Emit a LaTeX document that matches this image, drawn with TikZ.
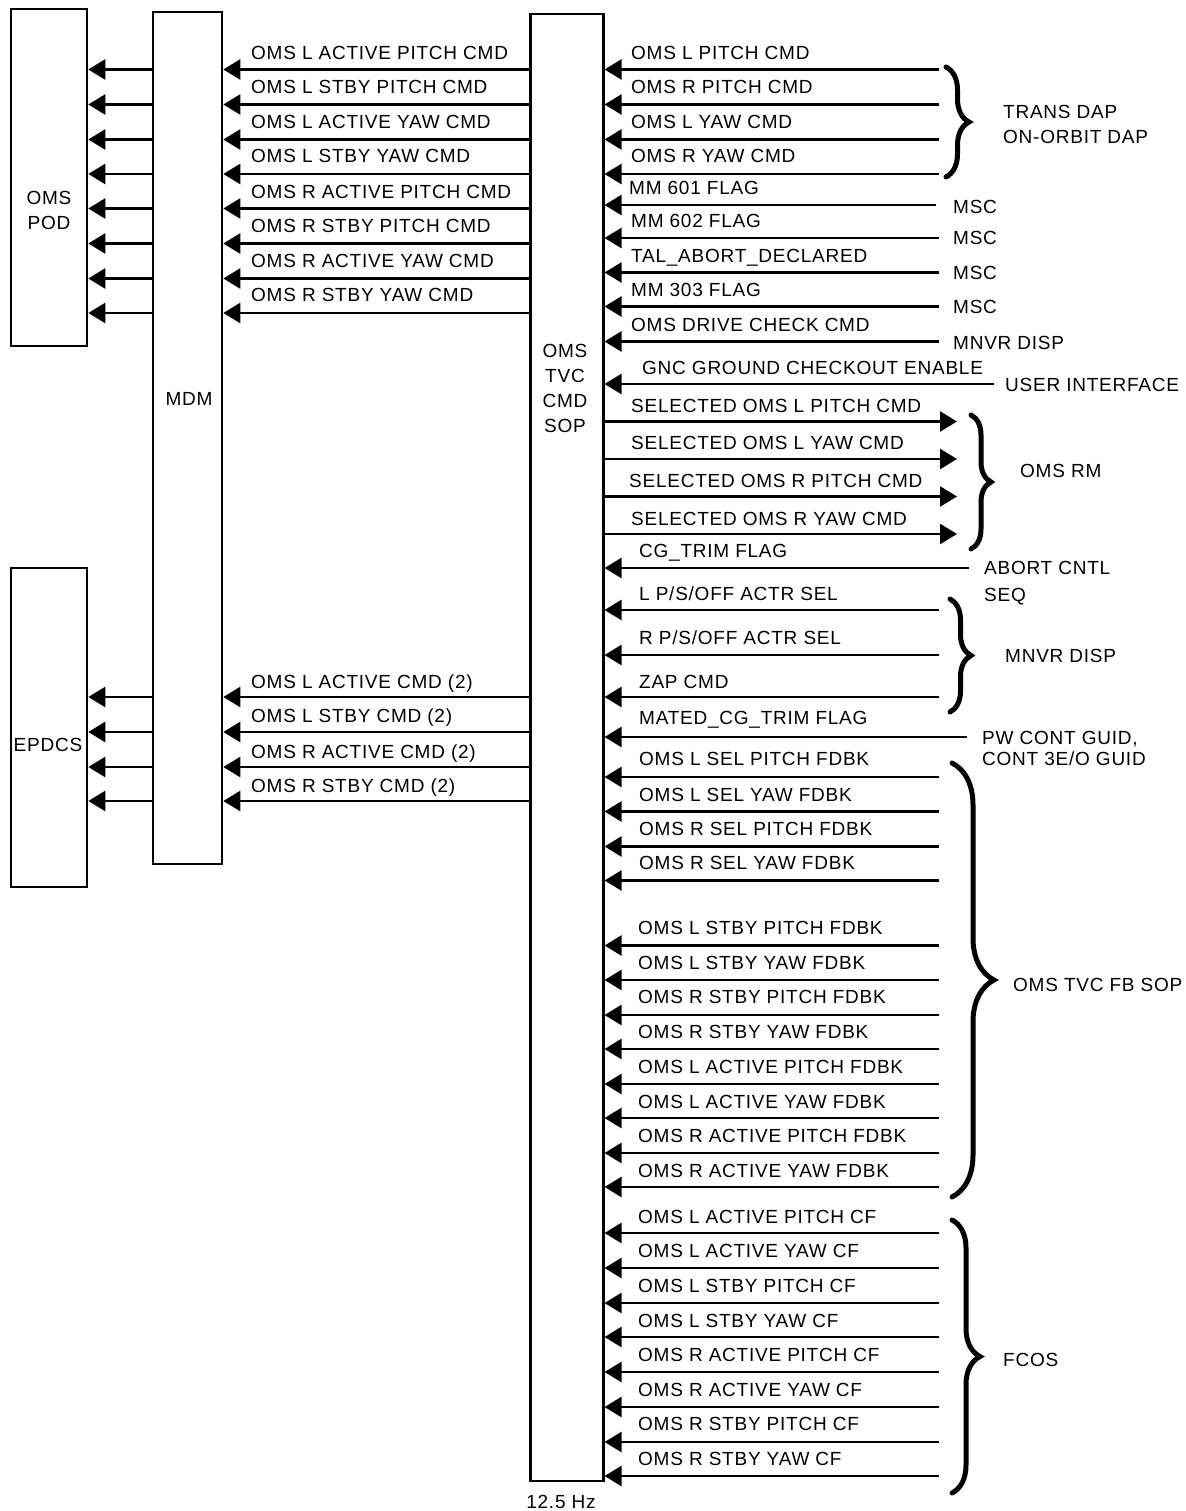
\documentclass[tikz,border=0pt]{standalone}
\usepackage{fontspec}
\setmainfont{Liberation Sans}[LetterSpace=4]
\usetikzlibrary{arrows.meta,decorations.pathreplacing}
\tikzset{
  arr/.style={line width=2.6pt,-{Triangle[length=17pt,width=20pt]}},
  box/.style={draw,line width=2.6pt,inner sep=0pt},
  lbl/.style={anchor=base west,inner sep=0pt},
  ctr/.style={anchor=center,inner sep=0pt,align=center},
  curly/.style={decorate,decoration={brace,amplitude=#1},line width=5pt,line cap=round},
}
% left-side command rows: name, line y, label y, text
\newcommand\podrow[4]{%
  \draw[arr] (sop.west |- 0,#2) -- (mdm.east |- 0,#2);
  \draw[arr] (mdm.west |- 0,#2) -- (pod.east |- 0,#2);
  \node[lbl] (#1) at (251,#3+6.8) {#4};
}
\newcommand\eprow[4]{%
  \draw[arr] (sop.west |- 0,#2) -- (mdm.east |- 0,#2);
  \draw[arr] (mdm.west |- 0,#2) -- (epdcs.east |- 0,#2);
  \node[lbl] (#1) at (251,#3+6.8) {#4};
}
% right-side input rows: name, line y, label y, label x, source x, text
\newcommand\inrow[6]{%
  \coordinate (#1) at (#5,#2);
  \draw[arr] (#1) -- (sop.east |- #1);
  \node[lbl] (#1t) at (#4,#3+6.8) {#6};
}
% right-side output rows: name, line y, label y, label x, text
\newcommand\outrow[5]{%
  \coordinate (#1) at (957,#2);
  \draw[arr] (sop.east |- #1) -- (#1);
  \node[lbl] (#1t) at (#4,#3+6.8) {#5};
}
\begin{document}
\begin{tikzpicture}[x=1pt,y=-1pt,font=\fontsize{19}{25}\selectfont]
\useasboundingbox (0,0) rectangle (1185,1511);

% boxes
\node[box,minimum width=76pt,minimum height=337pt] (pod) at (49,177.5) {};
\node[box,minimum width=76pt,minimum height=319pt] (epdcs) at (49,727.5) {};
\node[box,minimum width=69pt,minimum height=852pt] (mdm) at (187.5,438) {};
\node[box,minimum width=72.5pt,minimum height=1467pt] (sop) at (567,747.5) {};

\node[ctr] (podtxt) at (49,210) {OMS\\POD};
\node[ctr] (epdcstxt) at (48,745) {EPDCS};
\node[ctr] (mdmtxt) at (189,399) {MDM};
\node[ctr] (soptxt) at (565,388) {OMS\\TVC\\CMD\\SOP};
\node[ctr] (rate) at (561,1502) {12.5 Hz};

% left side
\podrow{la}{69.5}{53}{OMS L ACTIVE PITCH CMD}
\podrow{lb}{104.5}{87}{OMS L STBY PITCH CMD}
\podrow{lc}{139.5}{122}{OMS L ACTIVE YAW CMD}
\podrow{ld}{174}{156}{OMS L STBY YAW CMD}
\podrow{le}{208.5}{192}{OMS R ACTIVE PITCH CMD}
\podrow{lf}{243.5}{226}{OMS R STBY PITCH CMD}
\podrow{lg}{278.5}{261}{OMS R ACTIVE YAW CMD}
\podrow{lh}{313}{295}{OMS R STBY YAW CMD}

\eprow{ea}{697}{682}{OMS L ACTIVE CMD (2)}
\eprow{eb}{732}{716}{OMS L STBY CMD (2)}
\eprow{ec}{767}{752}{OMS R ACTIVE CMD (2)}
\eprow{ed}{801}{786}{OMS R STBY CMD (2)}

% right side: DAP inputs
\inrow{ra}{69.5}{53}{631}{939}{OMS L PITCH CMD}
\inrow{rb}{104.5}{87}{631}{939}{OMS R PITCH CMD}
\inrow{rc}{139.5}{122}{631}{939}{OMS L YAW CMD}
\inrow{rd}{174}{156}{631}{939}{OMS R YAW CMD}
\draw[curly=23pt] (946,67) -- (946,177);
\node[lbl] (trans) at (1003,118.8) {TRANS DAP};
\node[lbl] (onorb) at (1003,143.8) {ON-ORBIT DAP};

% MSC etc.
\inrow{re}{205}{188}{629}{936}{MM 601 FLAG}
\inrow{rf}{238}{221}{631}{939}{MM 602 FLAG}
\inrow{rg}{272.5}{256}{631}{939}{TAL\_ABORT\_DECLARED}
\inrow{rh}{306.5}{290}{631}{939}{MM 303 FLAG}
\inrow{ri}{341.5}{325}{631}{939}{OMS DRIVE CHECK CMD}
\inrow{rj}{384}{368}{642}{994}{GNC GROUND CHECKOUT ENABLE}
\node[lbl] (msc1) at (953,213.8) {MSC};
\node[lbl] (msc2) at (953,244.8) {MSC};
\node[lbl] (msc3) at (953,279.8) {MSC};
\node[lbl] (msc4) at (953,313.8) {MSC};
\node[lbl] (mnvr1) at (953,349.8) {MNVR DISP};
\node[lbl] (user) at (1005,391.8) {USER INTERFACE};

% outputs to OMS RM
\outrow{oa}{421.5}{406}{631}{SELECTED OMS L PITCH CMD}
\outrow{ob}{459}{443}{631}{SELECTED OMS L YAW CMD}
\outrow{oc}{496.5}{481}{629}{SELECTED OMS R PITCH CMD}
\outrow{od}{534}{519}{631}{SELECTED OMS R YAW CMD}
\draw[curly=20pt] (971,415) -- (971,549);
\node[lbl] (omsrm) at (1020,477.8) {OMS RM};

% abort / maneuver
\inrow{rk}{568}{551}{639}{969}{CG\_TRIM FLAG}
\node[lbl] (abort) at (984,574.8) {ABORT CNTL};
\node[lbl] (seq) at (984,601.8) {SEQ};
\inrow{rl}{610}{594}{639}{939}{L P/S/OFF ACTR SEL}
\inrow{rm}{655}{638}{639}{939}{R P/S/OFF ACTR SEL}
\inrow{rn}{697}{682}{639}{939}{ZAP CMD}
\draw[curly=21pt] (950,599) -- (950,712);
\node[lbl] (mnvr2) at (1005,662.8) {MNVR DISP};
\inrow{ro}{737}{718}{639}{967}{MATED\_CG\_TRIM FLAG}
\node[lbl] (pw1) at (982,744.8) {PW CONT GUID,};
\node[lbl] (pw2) at (982,765.8) {CONT 3E/O GUID};

% feedback
\inrow{fa}{777}{759}{639}{939}{OMS L SEL PITCH FDBK}
\inrow{fb}{811.5}{795}{639}{939}{OMS L SEL YAW FDBK}
\inrow{fc}{846.5}{829}{639}{939}{OMS R SEL PITCH FDBK}
\inrow{fd}{880.5}{863}{639}{939}{OMS R SEL YAW FDBK}
\inrow{fe}{945.5}{928}{638}{939}{OMS L STBY PITCH FDBK}
\inrow{ff}{980}{963}{638}{939}{OMS L STBY YAW FDBK}
\inrow{fg}{1015}{997}{638}{939}{OMS R STBY PITCH FDBK}
\inrow{fh}{1049}{1032}{638}{939}{OMS R STBY YAW FDBK}
\inrow{fi}{1084}{1067}{638}{939}{OMS L ACTIVE PITCH FDBK}
\inrow{fj}{1118}{1102}{638}{939}{OMS L ACTIVE YAW FDBK}
\inrow{fk}{1153}{1136}{638}{939}{OMS R ACTIVE PITCH FDBK}
\inrow{fl}{1187}{1171}{638}{939}{OMS R ACTIVE YAW FDBK}
\draw[curly=42pt] (952,763) -- (952,1197);
\node[lbl] (fbsop) at (1013,991.8) {OMS TVC FB SOP};

% FCOS
\inrow{ca}{1233}{1217}{638}{939}{OMS L ACTIVE PITCH CF}
\inrow{cb}{1268}{1251}{638}{939}{OMS L ACTIVE YAW CF}
\inrow{cc}{1303}{1286}{638}{939}{OMS L STBY PITCH CF}
\inrow{cd}{1337}{1321}{638}{939}{OMS L STBY YAW CF}
\inrow{ce}{1372}{1355}{638}{939}{OMS R ACTIVE PITCH CF}
\inrow{cf}{1407}{1390}{638}{939}{OMS R ACTIVE YAW CF}
\inrow{cg}{1442}{1424}{638}{939}{OMS R STBY PITCH CF}
\inrow{ch}{1476}{1459}{638}{939}{OMS R STBY YAW CF}
\draw[curly=28pt] (952,1220) -- (952,1493);
\node[lbl] (fcos) at (1003,1366.8) {FCOS};
\end{tikzpicture}
\end{document}
